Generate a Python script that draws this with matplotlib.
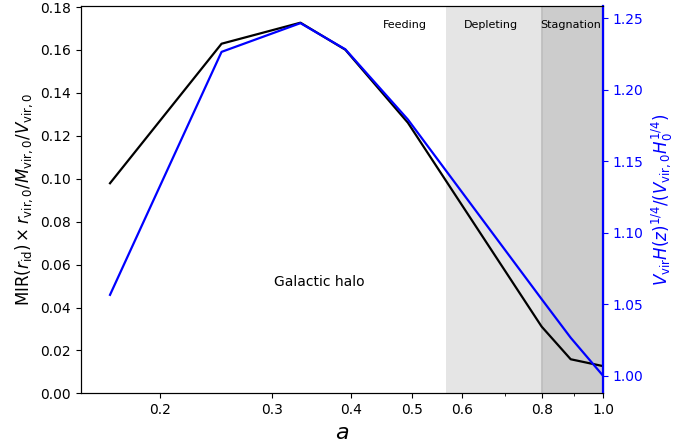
import matplotlib
matplotlib.use("Agg")
import matplotlib.pyplot as plt
from matplotlib.ticker import (FixedLocator, FixedFormatter, NullFormatter,
                               MultipleLocator, FormatStrFormatter)

# scale factor of each snapshot
a_snap = [0.1667, 0.25, 0.333, 0.392, 0.492, 0.8, 0.889, 1.0]

# MIR(r_id) normalised to present-day virial quantities
mir_norm = [0.0979, 0.1629, 0.1727, 0.1601, 0.1261, 0.0311, 0.0159, 0.0127]

# V_vir H(z)^{1/4} normalised to z=0
vvir_norm = [1.0566, 1.2266, 1.2467, 1.2284, 1.1793, 1.0536, 1.0266, 1.0000]

phase_names = ["Feeding", "Depleting", "Stagnation"]
phase_label_a = [0.487, 0.665, 0.89]
depleting_start = 0.566
stagnation_start = 0.8

xticks = [0.2, 0.3, 0.4, 0.5, 0.6, 0.8, 1.0]
xtick_labels = ["0.2", "0.3", "0.4", "0.5", "0.6", "0.8", "1.0"]


def main():
    fig = plt.figure(figsize=(6.98, 4.45), dpi=100)
    ax = fig.add_axes([0.116, 0.116, 0.748, 0.8716])

    ax.axvspan(depleting_start, stagnation_start, color="#e5e5e5", lw=0, zorder=0)
    ax.axvspan(stagnation_start, 1.0, color="#cccccc", lw=0, zorder=0)
    ax.axvline(stagnation_start, color="#bdbdbd", lw=1.2, zorder=0.5)

    ax.plot(a_snap, mir_norm, "-", color="black", lw=1.6)
    ax.set_xscale("log")
    ax.set_xlim(0.15, 1.0)
    ax.set_ylim(bottom=0)
    ax.xaxis.set_major_locator(FixedLocator(xticks))
    ax.xaxis.set_major_formatter(FixedFormatter(xtick_labels))
    ax.xaxis.set_minor_formatter(NullFormatter())
    ax.yaxis.set_major_locator(MultipleLocator(0.02))
    ax.yaxis.set_major_formatter(FormatStrFormatter("%.2f"))

    ax.set_xlabel("$a$", fontsize=16)
    ax.set_ylabel(r"MIR$(r_{\rm id})\times r_{\rm vir,0}/M_{\rm vir,0}/V_{\rm vir,0}$",
                  fontsize=12)

    for name, xa in zip(phase_names, phase_label_a):
        ax.text(xa, 0.9497, name, transform=ax.get_xaxis_transform(),
                ha="center", va="center", fontsize=8)
    ax.text(0.357, 0.0519, "Galactic halo", ha="center", va="center", fontsize=10)

    ax2 = ax.twinx()
    ax2.plot(a_snap, vvir_norm, "-", color="blue", lw=1.6)
    ax2.set_ylabel(r"$V_{\rm vir}H(z)^{1/4}/(V_{\rm vir,0}H_0^{1/4})$",
                   color="blue", fontsize=12)
    ax2.tick_params(axis="y", colors="blue")
    ax2.spines["right"].set_color("blue")
    ax2.spines["right"].set_linewidth(1.6)

    fig.savefig("out.png", dpi=100)


if __name__ == "__main__":
    main()
